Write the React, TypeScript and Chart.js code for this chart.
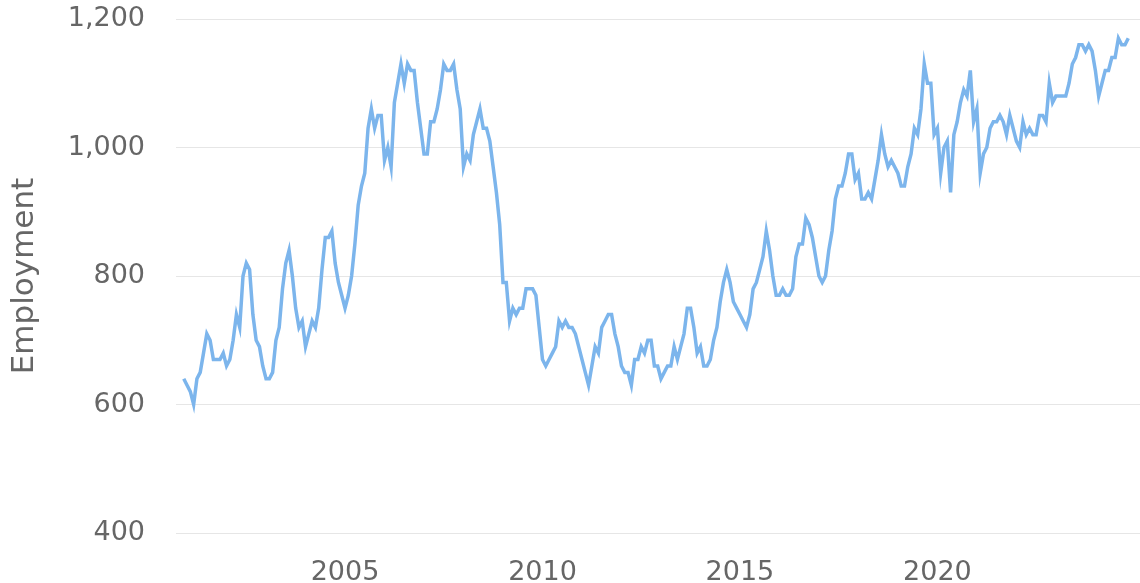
import React, { useEffect, useRef } from "react";
import { Chart, registerables } from "chart.js";

Chart.register(...registerables);

// Monthly series starting December 2000
const startYear = 2000;
const startMonthIndex = 11; // December
const employment: number[] = [
  640, 630, 620, 600, 640, 650, 680, 710, 700, 670, 670, 670,
  680, 660, 670, 700, 740, 720, 800, 820, 810, 740, 700, 690,
  660, 640, 640, 650, 700, 720, 780, 820, 840, 800, 750, 720,
  730, 690, 710, 730, 720, 750, 810, 860, 860, 870, 820, 790,
  770, 750, 770, 800, 850, 910, 940, 960, 1030, 1060, 1030, 1050,
  1050, 980, 1000, 970, 1070, 1100, 1130, 1100, 1130, 1120, 1120, 1070,
  1030, 990, 990, 1040, 1040, 1060, 1090, 1130, 1120, 1120, 1130, 1090,
  1060, 970, 990, 980, 1020, 1040, 1060, 1030, 1030, 1010, 970, 930,
  880, 790, 790, 730, 750, 740, 750, 750, 780, 780, 780, 770,
  720, 670, 660, 670, 680, 690, 730, 720, 730, 720, 720, 710,
  690, 670, 650, 630, 660, 690, 680, 720, 730, 740, 740, 710,
  690, 660, 650, 650, 630, 670, 670, 690, 680, 700, 700, 660,
  660, 640, 650, 660, 660, 690, 670, 690, 710, 750, 750, 720,
  680, 690, 660, 660, 670, 700, 720, 760, 790, 810, 790, 760,
  750, 740, 730, 720, 740, 780, 790, 810, 830, 870, 840, 800,
  770, 770, 780, 770, 770, 780, 830, 850, 850, 890, 880, 860,
  830, 800, 790, 800, 840, 870, 920, 940, 940, 960, 990, 990,
  950, 960, 920, 920, 930, 920, 950, 980, 1020, 990, 970, 980,
  970, 960, 940, 940, 970, 990, 1030, 1020, 1060, 1130, 1100, 1100,
  1020, 1030, 960, 1000, 1010, 930, 1020, 1040, 1070, 1090, 1080, 1120,
  1040, 1060, 960, 990, 1000, 1030, 1040, 1040, 1050, 1040, 1020, 1050,
  1030, 1010, 1000, 1040, 1020, 1030, 1020, 1020, 1050, 1050, 1040, 1100,
  1070, 1080, 1080, 1080, 1080, 1100, 1130, 1140, 1160, 1160, 1150, 1160,
  1150, 1120, 1080, 1100, 1120, 1120, 1140, 1140, 1170, 1160, 1160, 1170,
];

const xTickYears: number[] = [2005, 2010, 2015, 2020];
const yTickValues: number[] = [400, 600, 800, 1000, 1200];
const yTitle = "Employment";

export default function App() {
  const canvasRef = useRef<HTMLCanvasElement | null>(null);

  useEffect(() => {
    if (!canvasRef.current) return;
    const points = employment.map((v, i) => ({
      x: startYear + (startMonthIndex + i) / 12,
      y: v,
    }));
    const font = { family: "'DejaVu Sans', sans-serif", size: 27 };
    const chart = new Chart(canvasRef.current, {
      type: "line",
      data: {
        datasets: [
          {
            data: points,
            borderColor: "#7cb5ec",
            borderWidth: 3.5,
            pointRadius: 0,
            tension: 0,
            fill: false,
          },
        ],
      },
      options: {
        animation: false,
        responsive: true,
        maintainAspectRatio: false,
        layout: { padding: { top: 19, left: 0, right: 0, bottom: 0 } },
        plugins: { legend: { display: false }, tooltip: { enabled: false } },
        scales: {
          x: {
            type: "linear",
            min: 2000.72,
            max: 2025.13,
            grid: { display: false, drawTicks: false },
            border: { display: false },
            afterBuildTicks: (scale: any) => {
              scale.ticks = xTickYears.map((v) => ({ value: v }));
            },
            afterFit: (scale: any) => {
              scale.height = 50;
              scale.paddingLeft = 0;
              scale.paddingRight = 0;
            },
            ticks: {
              font,
              color: "#666666",
              padding: 24,
              maxRotation: 0,
              autoSkip: false,
              callback: (v: any) => String(v),
            },
          },
          y: {
            min: 400,
            max: 1200,
            afterBuildTicks: (scale: any) => {
              scale.ticks = yTickValues.map((v) => ({ value: v }));
            },
            afterFit: (scale: any) => {
              scale.width = 176;
              scale.paddingTop = 0;
              scale.paddingBottom = 0;
            },
            grid: { color: "#e6e6e6", lineWidth: 1, drawTicks: false },
            border: { display: false },
            ticks: {
              font,
              color: "#666666",
              padding: 31,
              callback: (v: any) => Number(v).toLocaleString("en-US"),
            },
            title: {
              display: true,
              text: yTitle,
              color: "#666666",
              font: { family: "'DejaVu Sans', sans-serif", size: 31 },
              padding: { top: 6, bottom: 0 },
            },
          },
        },
      },
    });
    return () => chart.destroy();
  }, []);

  return (
    <div style={{ position: "absolute", left: 0, top: 0, width: 1140, height: 583 }}>
      <canvas ref={canvasRef} />
    </div>
  );
}
